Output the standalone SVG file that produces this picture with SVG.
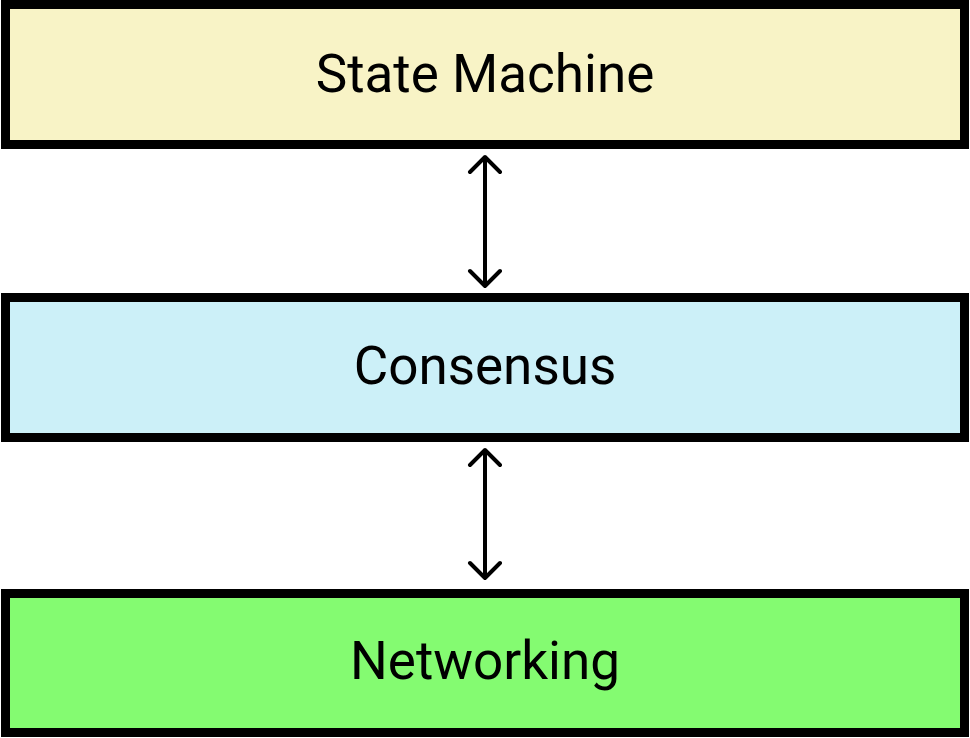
<svg xmlns="http://www.w3.org/2000/svg" width="970" height="738" viewBox="0 0 970 738">
<style>
.box{stroke:#000;stroke-width:9}
.lbl{font-family:Roboto,"Liberation Sans",sans-serif;font-size:53px;fill:#000;text-anchor:middle}
.conn{fill:none;stroke:#000;stroke-width:4;stroke-linecap:round;stroke-linejoin:round}
</style>
<rect width="970" height="738" fill="#fff"/>
<g id="state-machine">
<rect class="box" x="5.5" y="4.5" width="959" height="140" fill="#f8f3c6"/>
<text class="lbl" x="485" y="92">State Machine</text>
</g>
<g id="consensus">
<rect class="box" x="5.5" y="297.5" width="959" height="140" fill="#ccf0f8"/>
<text class="lbl" x="485" y="384">Consensus</text>
</g>
<g id="networking">
<rect class="box" x="5.5" y="593.5" width="959" height="139" fill="#84fb71"/>
<text class="lbl" x="485" y="679">Networking</text>
</g>
<g id="connectors">
<path class="conn" d="M485 157V286M470 172L485 157L500 172M470 271L485 286L500 271"/>
<path class="conn" d="M485 450V578M470 465L485 450L500 465M470 563L485 578L500 563"/>
</g>
</svg>
